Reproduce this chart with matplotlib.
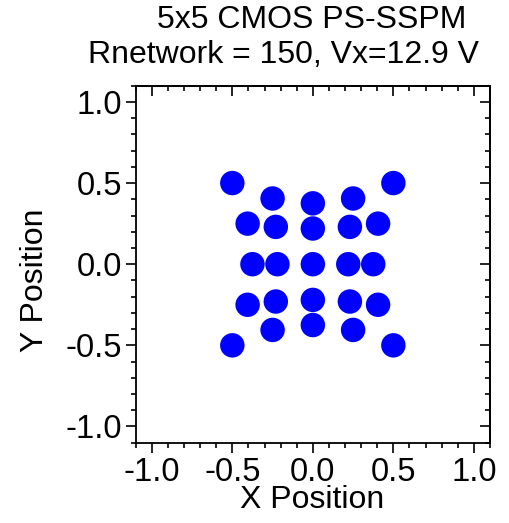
import matplotlib
matplotlib.use("Agg")
import matplotlib.pyplot as plt
from matplotlib.ticker import MultipleLocator

plt.rcParams["font.family"] = ["Liberation Sans", "DejaVu Sans"]

# detector positions
x_pos = [-0.5, 0.5, -0.25, 0.25, 0.0, -0.405, 0.405, -0.23, 0.23, 0.0,
         -0.375, -0.22, 0.0, 0.22, 0.375,
         -0.405, -0.23, 0.0, 0.23, 0.405, -0.25, 0.0, 0.25, -0.5, 0.5]
y_pos = [0.5, 0.5, 0.405, 0.405, 0.375, 0.25, 0.25, 0.23, 0.23, 0.22,
         0.0, 0.0, 0.0, 0.0, 0.0,
         -0.25, -0.23, -0.22, -0.23, -0.25, -0.405, -0.375, -0.405, -0.5, -0.5]

title_1 = "5x5 CMOS PS-SSPM"
title_2 = "Rnetwork = 150, Vx=12.9 V"

W, H = 510, 523
fig = plt.figure(figsize=(W / 100, H / 100), dpi=100)
ax = fig.add_axes([135.7 / W, 1 - 442.7 / H, (490 - 135.7) / W, (442.7 - 85.7) / H])

ax.scatter(x_pos, y_pos, s=310, color="#0000ff", edgecolors="none", zorder=3)

ax.set_xlim(-1.1, 1.1)
ax.set_ylim(-1.1, 1.1)
for a in (ax.xaxis, ax.yaxis):
    a.set_major_locator(MultipleLocator(0.5))
    a.set_minor_locator(MultipleLocator(0.1))
    a.set_major_formatter(lambda v, p: f"{v:.1f}")
ax.tick_params(which="both", direction="out", labelsize=23.5, width=1.2,
               top=False, right=False, pad=3)
ax.tick_params(which="major", length=7)
ax.tick_params(which="minor", length=3.5)
for s in ax.spines.values():
    s.set_linewidth(1.3)

# mirrored ticks pointing inwards on top and right
top = ax.secondary_xaxis("top")
right = ax.secondary_yaxis("right")
for sec, axis in ((top, top.xaxis), (right, right.yaxis)):
    axis.set_major_locator(MultipleLocator(0.5))
    axis.set_minor_locator(MultipleLocator(0.1))
    sec.tick_params(which="both", direction="in", width=1.2, labelsize=0)
    sec.tick_params(which="major", length=7)
    sec.tick_params(which="minor", length=3.5)
    axis.set_ticklabels([])
    for s in sec.spines.values():
        s.set_linewidth(1.3)

fig.text(311.5 / W, 1 - 20 / H, title_1, ha="center", va="center", fontsize=23)
fig.text(283 / W, 1 - 55 / H, title_2, ha="center", va="center", fontsize=23)
fig.text(311.7 / W, 1 - 500 / H, "X Position", ha="center", va="center", fontsize=23)
fig.text(35 / W, 1 - 280 / H, "Y Position", ha="center", va="center",
         rotation=90, fontsize=23)

fig.savefig("out.png", dpi=100)
